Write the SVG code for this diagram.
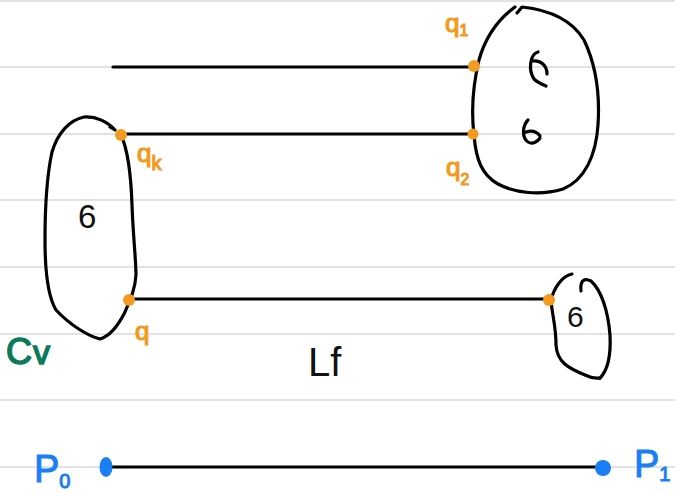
<svg xmlns="http://www.w3.org/2000/svg" width="675" height="493" viewBox="0 0 675 493">
  <style>
    .rule { stroke: #d9d9d9; stroke-width: 1.5; }
    .ink { fill: none; stroke: #000; stroke-width: 3.2; stroke-linecap: round; stroke-linejoin: round; }
    .seg { stroke: #000; stroke-width: 3.2; stroke-linecap: round; }
    .pt { fill: #f39a21; }
    .ptb { fill: #1a7ef4; }
    .lbl { font-family: "Liberation Sans", "DejaVu Sans", sans-serif; }
    .org { fill: #f39a21; stroke: #f39a21; stroke-width: 1.2; font-size: 26px; }
    .sub { font-size: 16px; }
    .blk { fill: #111; }
    .grn { fill: #0b7a5a; stroke: #0b7a5a; stroke-width: 1.5; }
    .blu { fill: #1a7ef4; stroke: #1a7ef4; stroke-width: 1; }
  </style>

  <!-- ruled paper -->
  <g id="paper">
    <rect width="675" height="493" fill="#fff"/>
    <line class="rule" x1="0" y1="1" x2="675" y2="1"/>
    <line class="rule" x1="0" y1="67" x2="675" y2="67"/>
    <line class="rule" x1="0" y1="134" x2="675" y2="134"/>
    <line class="rule" x1="0" y1="200" x2="675" y2="200"/>
    <line class="rule" x1="0" y1="267" x2="675" y2="267"/>
    <line class="rule" x1="0" y1="334" x2="675" y2="334"/>
    <line class="rule" x1="0" y1="400" x2="675" y2="400"/>
    <line class="rule" x1="0" y1="467" x2="675" y2="467"/>
  </g>

  <!-- connectors -->
  <g id="connectors">
    <line class="seg" x1="113" y1="67" x2="474" y2="67"/>
    <line class="seg" x1="121" y1="134" x2="473" y2="134"/>
    <line class="seg" x1="129" y1="299" x2="549" y2="299"/>
    <line class="seg" x1="105" y1="467" x2="603" y2="467"/>
  </g>

  <!-- large region on the upper right -->
  <g id="blob-right">
    <path class="ink" d="M515 7 C500 18 486 35 479 60 C473 85 471 110 474 135 C476 160 482 175 498 184 C515 193 540 196 563 189 C585 180 596 155 598 125 C600 95 596 65 584 40 C572 20 550 10 522 7 L517 13"/>
    <path class="ink" stroke-width="2" d="M538 52 C530 54 528 70 534 79 C538 83 544 85 546 86 M533 61 C540 60 547 65 547 74"/>
    <path class="ink" stroke-width="2" d="M528 120 C522 126 522 138 528 142 C533 145 538 141 540 138 M526 132 C532 130 537 132 540 136"/>
  </g>

  <!-- left region Cv -->
  <g id="blob-left">
    <path class="ink" d="M121 135 C128 150 131 175 132 205 C133 235 136 260 136 275 C135 290 130 300 125 312 C118 326 110 336 100 339 C88 336 70 325 56 310 C47 295 45 270 45 240 C45 205 47 175 52 152 C58 132 70 120 84 117 C96 116 108 122 115 130 L110 127"/>
    <text class="lbl blk" x="78" y="228" style="font-size:33px">6</text>
  </g>

  <!-- small region on the right -->
  <g id="blob-small">
    <path class="ink" d="M572 274 C562 276 554 288 551 300 C552 315 556 325 556 345 C557 362 568 368 585 375 C593 379 600 378 600 378"/>
    <path class="ink" d="M581 291 C580 282 583 277 591 281 C601 290 608 310 610 335 C611 355 608 370 600 378"/>
    <text class="lbl blk" x="567" y="327" style="font-size:30px">6</text>
  </g>

  <!-- marked points -->
  <g id="points">
    <circle class="pt" cx="474" cy="66" r="6"/>
    <circle class="pt" cx="473" cy="134" r="5.5"/>
    <circle class="pt" cx="121" cy="135" r="6"/>
    <circle class="pt" cx="129" cy="300" r="6"/>
    <circle class="pt" cx="549" cy="300" r="6"/>
    <ellipse class="ptb" cx="106" cy="467" rx="6.5" ry="10"/>
    <circle class="ptb" cx="603" cy="468" r="8"/>
  </g>

  <!-- labels -->
  <g id="labels" class="lbl">
    <text class="org" x="445" y="32">q<tspan class="sub" dy="4">1</tspan></text>
    <text class="org" x="446" y="176">q<tspan class="sub" dy="9">2</tspan></text>
    <text class="org" x="137" y="162">q<tspan class="sub" style="font-size:20px" dy="8">k</tspan></text>
    <text class="org" x="135" y="340">q</text>
    <text class="grn" x="6" y="364" style="font-size:36px">C<tspan dx="1" style="font-size:34px">v</tspan></text>
    <text class="blk" x="308" y="376" style="font-size:40px">Lf</text>
    <text class="blu" x="34" y="482" style="font-size:38px">P<tspan dy="6" style="font-size:20px">0</tspan></text>
    <text class="blu" x="634" y="477" style="font-size:38px">P<tspan dy="4" style="font-size:20px">1</tspan></text>
  </g>
</svg>
